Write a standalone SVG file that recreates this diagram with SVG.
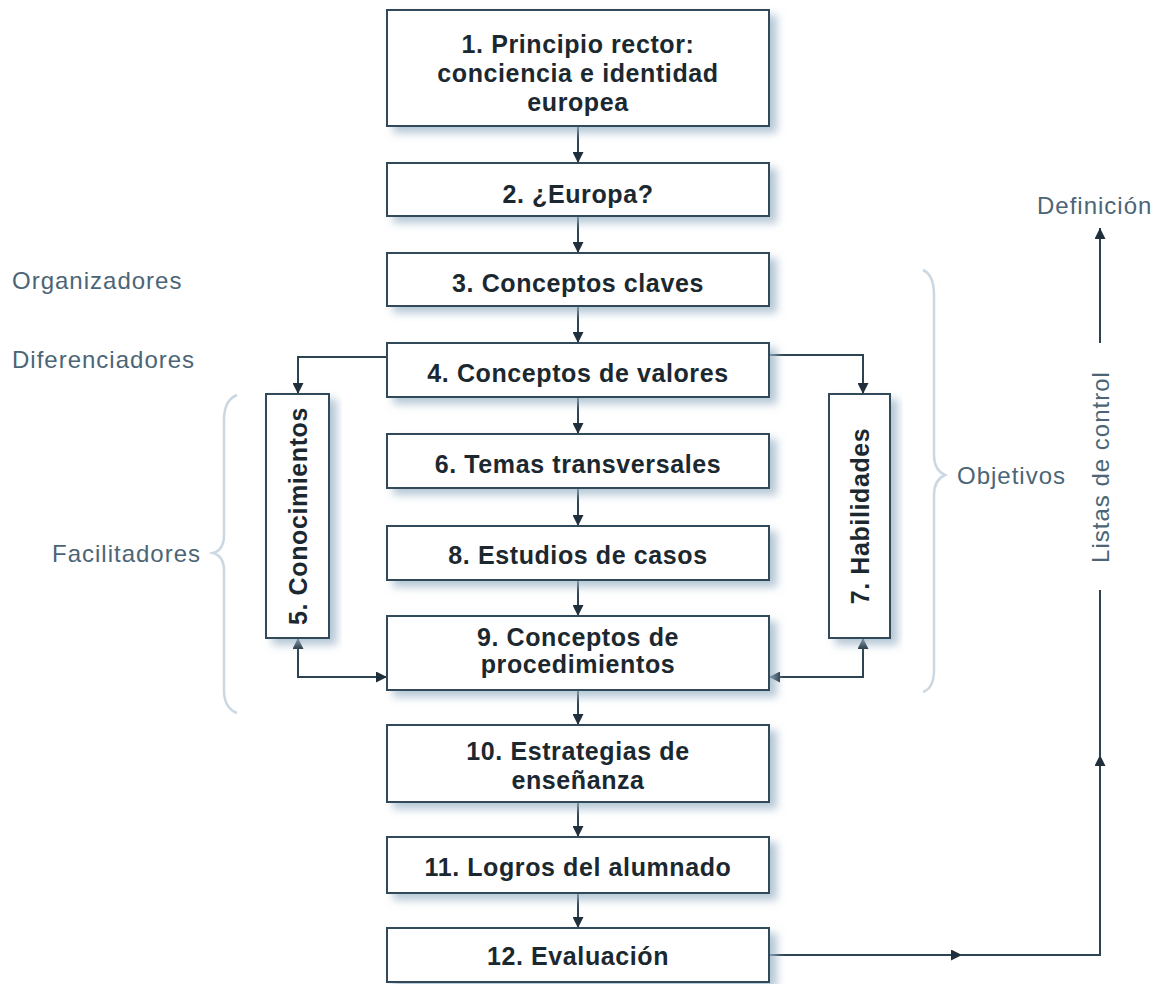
<svg xmlns="http://www.w3.org/2000/svg" width="1160" height="984" viewBox="0 0 1160 984">
<defs>
<filter id="sh" x="-20%" y="-20%" width="140%" height="150%">
<feGaussianBlur in="SourceAlpha" stdDeviation="4"/>
<feOffset dx="7" dy="6" result="b"/>
<feFlood flood-color="#9db5c8" flood-opacity="0.75"/>
<feComposite in2="b" operator="in"/>
<feMerge><feMergeNode/><feMergeNode in="SourceGraphic"/></feMerge>
</filter>
<marker id="ar" viewBox="0 0 10 10" refX="10" refY="5" markerWidth="11" markerHeight="11" markerUnits="userSpaceOnUse" orient="auto-start-reverse">
<path d="M0,0 L10,5 L0,10 z" fill="#1f2f3b"/>
</marker>
<style>
.box{fill:#fff;stroke:#33495a;stroke-width:2;filter:url(#sh)}
.bt{font-family:"Liberation Sans",Arial,sans-serif;font-weight:bold;font-size:25px;letter-spacing:0.6px;fill:#1c2830;text-anchor:middle}
.lab{font-family:"Liberation Sans",Arial,sans-serif;font-size:24px;letter-spacing:1px;fill:#4b6576}
.ln{fill:none;stroke:#2e4352;stroke-width:2}
.br{fill:none;stroke:#cbd8e2;stroke-width:2.5}
</style>
</defs>
<rect width="1160" height="984" fill="#fff"/>

<g id="labels">
<text class="lab" x="12" y="289">Organizadores</text>
<text class="lab" x="12" y="368">Diferenciadores</text>
<text class="lab" x="52" y="562">Facilitadores</text>
<text class="lab" x="957" y="484">Objetivos</text>
<text class="lab" x="1037" y="214">Definición</text>
<text class="lab" transform="translate(1109,467) rotate(-90)" text-anchor="middle">Listas de control</text>
</g>

<g id="braces">
<path class="br" d="M237,395 Q224,400 224,420 L224,535 Q224,550 213,553 Q224,556 224,571 L224,690 Q224,708 237,713"/>
<path class="br" d="M923,270 Q934,275 934,295 L934,455 Q934,470 945,475 Q934,480 934,495 L934,670 Q934,688 923,692"/>
</g>

<g id="connectors">
<path class="ln" d="M578,126 V163" marker-end="url(#ar)"/>
<path class="ln" d="M578,216 V253" marker-end="url(#ar)"/>
<path class="ln" d="M578,306 V343" marker-end="url(#ar)"/>
<path class="ln" d="M578,397 V434" marker-end="url(#ar)"/>
<path class="ln" d="M578,488 V526" marker-end="url(#ar)"/>
<path class="ln" d="M578,580 V616" marker-end="url(#ar)"/>
<path class="ln" d="M578,690 V725" marker-end="url(#ar)"/>
<path class="ln" d="M578,802 V837" marker-end="url(#ar)"/>
<path class="ln" d="M578,893 V928" marker-end="url(#ar)"/>
<path class="ln" d="M387,357 H298 V394" marker-end="url(#ar)"/>
<path class="ln" d="M769,355 H863 V394" marker-end="url(#ar)"/>
<path class="ln" d="M298,638 V677 H387" marker-start="url(#ar)" marker-end="url(#ar)"/>
<path class="ln" d="M863,638 V677 H769" marker-start="url(#ar)" marker-end="url(#ar)"/>
<path class="ln" d="M769,955 H962" marker-end="url(#ar)"/>
<path class="ln" d="M960,955 H1100 V755" marker-end="url(#ar)"/>
<path class="ln" d="M1100,757 V590"/>
<path class="ln" d="M1100,343 V228" marker-end="url(#ar)"/>
</g>

<g id="n1"><rect class="box" x="387" y="10" width="382" height="116"/>
<text class="bt" x="578" y="53">1. Principio rector:</text>
<text class="bt" x="578" y="82">conciencia e identidad</text>
<text class="bt" x="578" y="111">europea</text></g>
<g id="n2"><rect class="box" x="387" y="163" width="382" height="53"/>
<text class="bt" x="578" y="203">2. ¿Europa?</text></g>
<g id="n3"><rect class="box" x="387" y="253" width="382" height="53"/>
<text class="bt" x="578" y="292">3. Conceptos claves</text></g>
<g id="n4"><rect class="box" x="387" y="343" width="382" height="54"/>
<text class="bt" x="578" y="382">4. Conceptos de valores</text></g>
<g id="n5"><rect class="box" x="266" y="394" width="63" height="244"/>
<text class="bt" transform="translate(307,516) rotate(-90)">5. Conocimientos</text></g>
<g id="n6"><rect class="box" x="387" y="434" width="382" height="54"/>
<text class="bt" x="578" y="473">6. Temas transversales</text></g>
<g id="n7"><rect class="box" x="829" y="394" width="61" height="244"/>
<text class="bt" transform="translate(869,516) rotate(-90)">7. Habilidades</text></g>
<g id="n8"><rect class="box" x="387" y="526" width="382" height="54"/>
<text class="bt" x="578" y="564">8. Estudios de casos</text></g>
<g id="n9"><rect class="box" x="387" y="616" width="382" height="74"/>
<text class="bt" x="578" y="646">9. Conceptos de</text>
<text class="bt" x="578" y="673">procedimientos</text></g>
<g id="n10"><rect class="box" x="387" y="725" width="382" height="77"/>
<text class="bt" x="578" y="760">10. Estrategias de</text>
<text class="bt" x="578" y="789">enseñanza</text></g>
<g id="n11"><rect class="box" x="387" y="837" width="382" height="56"/>
<text class="bt" x="578" y="876">11. Logros del alumnado</text></g>
<g id="n12"><rect class="box" x="387" y="928" width="382" height="54"/>
<text class="bt" x="578" y="965">12. Evaluación</text></g>
</svg>
